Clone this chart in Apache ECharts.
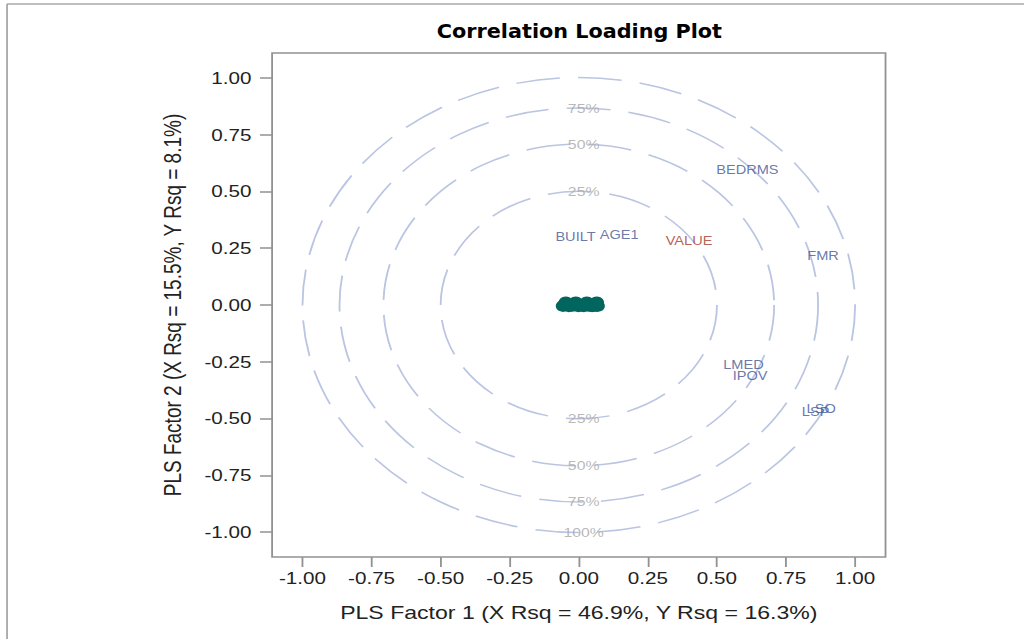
<!DOCTYPE html>
<html>
<head>
<meta charset="utf-8">
<title>Correlation Loading Plot</title>
<script src="https://cdn.jsdelivr.net/npm/echarts@6.0.0/dist/echarts.min.js"></script>
<style>
  html, body { margin: 0; padding: 0; background: #fff; overflow: hidden; width: 1024px; height: 639px; }
  /* The loading panel is laid out square, then the drawing is widened to the page width. */
  #chart { width: 843px; height: 639px; transform: scaleX(1.21471); transform-origin: 0 0; }
</style>
</head>
<body>
<div id="chart"></div>
<script>
// Axis ticks shared by both factors
const tickValues = [-1, -0.75, -0.5, -0.25, 0, 0.25, 0.5, 0.75, 1];

// Reference circles: percent of variation explained and the matching radius
const circlePercents = [25, 50, 75, 100];
const circleRadii = [0.5, 0.707, 0.866, 1.0];
const topLabelPercents = [25, 50, 75];
const bottomLabelPercents = [25, 50, 75, 100];

// Predictor (X) variable loadings
const xVarNames   = ['BEDRMS', 'FMR', 'BUILT', 'AGE1', 'LMED', 'IPOV', 'LSP', 'LSO'];
const xVarFactor1 = [0.610, 0.884, -0.012, 0.146, 0.596, 0.620, 0.857, 0.877];
const xVarFactor2 = [0.596, 0.218, 0.300, 0.310, -0.264, -0.312, -0.473, -0.459];

// Response (Y) variable loadings
const yVarNames   = ['VALUE'];
const yVarFactor1 = [0.399];
const yVarFactor2 = [0.283];

// Observation scores, crowded near the origin
const obsFactor1 = [-0.057, -0.047, -0.036, -0.025, -0.011, -0.002, 0.008, 0.018, 0.029, 0.038, 0.048, 0.058, 0.065, 0.068];
const obsFactor2 = [-0.004, 0.011, -0.005, -0.003, 0.011, -0.005, -0.002, -0.005, 0.011, -0.003, -0.005, -0.003, 0.011, -0.004];

const xTitle = 'PLS Factor 1 (X Rsq = 46.9%, Y Rsq = 16.3%)';
const yTitle = 'PLS Factor 2 (X Rsq = 15.5%, Y Rsq = 8.1%)';
const chartTitle = 'Correlation Loading Plot';

const FONT = "'Liberation Sans', Arial, sans-serif";
const AXIS_COLOR = '#929292';
const TEXT_COLOR = '#222222';

const chart = echarts.init(document.getElementById('chart'), null, { renderer: 'svg' });

const radiusOf = p => circleRadii[circlePercents.indexOf(p)];
const circleLabelData = [
  ...topLabelPercents.map(p => ({ value: [0, radiusOf(p)], name: p + '%' })),
  ...bottomLabelPercents.map(p => ({ value: [0, -radiusOf(p)], name: p + '%' }))
];

const fmt = v => v.toFixed(2);

function axisCommon() {
  return {
    type: 'value',
    min: -1.11,
    max: 1.11,
    axisLine: { show: false, onZero: false },
    axisTick: { show: true, customValues: tickValues, length: 10, lineStyle: { color: AXIS_COLOR, width: 1.5 } },
    splitLine: { show: false },
    nameLocation: 'middle',
    nameTextStyle: { fontFamily: FONT, fontSize: 19, color: TEXT_COLOR }
  };
}

const option = {
  animation: false,
  backgroundColor: '#ffffff',
  graphic: [
    { type: 'line', shape: { x1: 5.8, y1: 4, x2: 843, y2: 4 }, style: { stroke: '#a8a8a8', lineWidth: 1.5 } },
    { type: 'line', shape: { x1: 5.8, y1: 4, x2: 5.8, y2: 639 }, style: { stroke: '#a8a8a8', lineWidth: 1.5 } },
    {
      type: 'text', x: 477, y: 31,
      style: {
        text: chartTitle, fill: '#000000',
        font: "bold 19px 'DejaVu Sans Condensed', 'DejaVu Sans', sans-serif",
        align: 'center', verticalAlign: 'middle', textAlign: 'center', textVerticalAlign: 'middle'
      }
    }
  ],
  grid: {
    left: 224, right: 114, top: 53, bottom: 82,
    show: true, borderColor: AXIS_COLOR, borderWidth: 1.5, backgroundColor: 'transparent',
    containLabel: false, outerBoundsMode: 'none'
  },
  xAxis: Object.assign(axisCommon(), {
    name: xTitle,
    nameGap: 46,
    axisLabel: { customValues: tickValues, formatter: fmt, margin: 13, fontFamily: FONT, fontSize: 17, color: TEXT_COLOR }
  }),
  yAxis: Object.assign(axisCommon(), {
    name: yTitle,
    nameGap: 72,
    nameRotate: 90,
    axisLabel: { customValues: tickValues, formatter: fmt, margin: 17, fontFamily: FONT, fontSize: 17, color: TEXT_COLOR }
  }),
  series: [
    {
      name: 'Reference circles',
      type: 'custom',
      coordinateSystem: 'cartesian2d',
      silent: true,
      z: 1,
      data: circleRadii.map(r => [r]),
      encode: { x: 0 },
      renderItem: function (params, api) {
        const c = api.coord([0, 0]);
        const r = api.size([api.value(0), 0])[0];
        return {
          type: 'circle',
          shape: { cx: c[0], cy: c[1], r: r },
          style: { fill: 'none', stroke: '#bac5e2', lineWidth: 1.5, lineDash: [36, 15] }
        };
      }
    },
    {
      name: 'Circle labels',
      type: 'scatter',
      silent: true,
      z: 2,
      symbolSize: 1,
      itemStyle: { color: 'rgba(0,0,0,0)' },
      data: circleLabelData,
      label: {
        show: true, position: 'inside', offset: [4, 0],
        formatter: p => p.name,
        fontFamily: FONT, fontSize: 13, lineHeight: 13, color: '#a6a6a6'
      }
    },
    {
      name: 'Observations',
      type: 'scatter',
      z: 3,
      symbol: 'circle',
      symbolSize: 12,
      itemStyle: { color: '#01665E', opacity: 1 },
      data: obsFactor1.map((x, i) => [x, obsFactor2[i]])
    },
    {
      name: 'X variables',
      type: 'scatter',
      z: 4,
      symbolSize: 1,
      itemStyle: { color: 'rgba(0,0,0,0)' },
      data: xVarNames.map((n, i) => ({ name: n, value: [xVarFactor1[i], xVarFactor2[i]] })),
      label: {
        show: true, position: 'inside', formatter: p => p.name,
        fontFamily: FONT, fontSize: 12, lineHeight: 11, color: '#445694'
      }
    },
    {
      name: 'Y variables',
      type: 'scatter',
      z: 4,
      symbolSize: 1,
      itemStyle: { color: 'rgba(0,0,0,0)' },
      data: yVarNames.map((n, i) => ({ name: n, value: [yVarFactor1[i], yVarFactor2[i]] })),
      label: {
        show: true, position: 'inside', formatter: p => p.name,
        fontFamily: FONT, fontSize: 12, lineHeight: 11, color: '#A23A2E'
      }
    }
  ]
};

chart.setOption(option);
</script>
</body>
</html>
